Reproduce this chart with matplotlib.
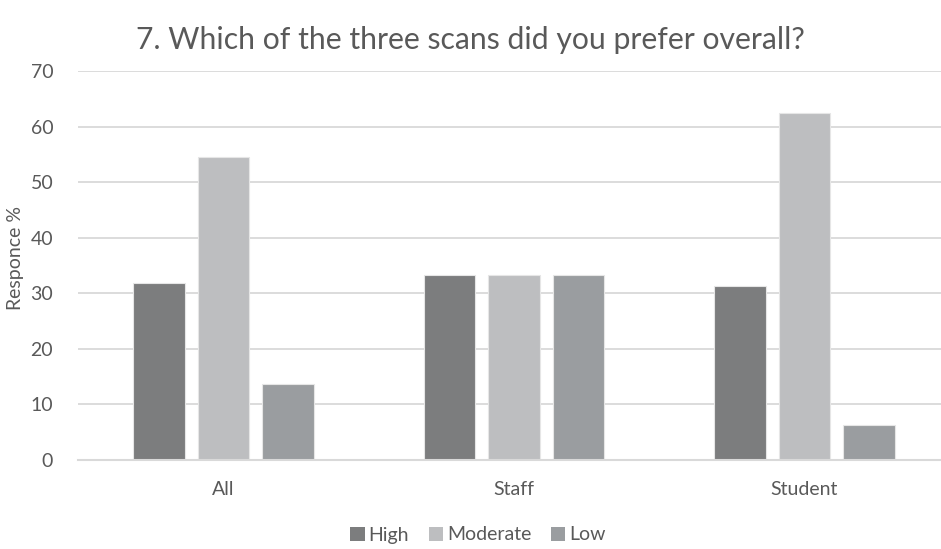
import matplotlib
matplotlib.use("Agg")
import matplotlib.pyplot as plt
import numpy as np

plt.rcParams['font.family'] = ['Lato', 'DejaVu Sans']

categories = ["All", "Staff", "Student"]
series_names = ["High", "Moderate", "Low"]
high = [31.8, 33.3, 31.25]
moderate = [54.5, 33.3, 62.5]
low = [13.6, 33.3, 6.25]
series_values = [high, moderate, low]
colors = ["#7c7d7e", "#bdbec0", "#9a9da0"]
yticks = [0, 10, 20, 30, 40, 50, 60, 70]

text_color = "#595959"
grid_color = "#d9d9d9"

fig = plt.figure(figsize=(9.41, 5.49), dpi=100)
ax = fig.add_axes([78.25 / 941, 89 / 549, 871.5 / 941, 389 / 549])

x = np.arange(len(categories))
step = 0.222
width = 0.176
for k, (name, vals, col) in enumerate(zip(series_names, series_values, colors)):
    ax.bar(x + (k - 1) * step, vals, width, color=col, label=name,
           edgecolor="#e6e6e6", linewidth=0.8, zorder=3)

ax.set_xlim(-0.5, len(categories) - 0.5)
ax.set_ylim(0, 70)
ax.set_yticks(yticks)
ax.set_xticks(x)
ax.set_xticklabels(categories)
ax.yaxis.grid(True, color=grid_color, linewidth=1.3, zorder=0)
for s in ["top", "right", "left"]:
    ax.spines[s].set_visible(False)
ax.spines["bottom"].set_color(grid_color)
ax.spines["bottom"].set_linewidth(1.5)
ax.spines["bottom"].set_zorder(4)
ax.tick_params(axis="both", length=0, colors=text_color, labelsize=14)
ax.tick_params(axis="y", pad=18)
ax.tick_params(axis="x", pad=15)

fig.text(16 / 941, 1 - 258 / 549, "Responce %", rotation=90,
         ha="center", va="center", color=text_color, fontsize=14)

fig.text(470 / 941, 1 - 40 / 549, "7. Which of the three scans did you prefer overall?",
         ha="center", va="center", color=text_color, fontsize=21.7)

leg = fig.legend(loc="center", bbox_to_anchor=(478 / 941, 1 - 535 / 549), ncol=3,
                 frameon=False, fontsize=14, handlelength=0.75, handleheight=0.75,
                 handletextpad=0.2, columnspacing=1.0, labelcolor=text_color)
for h in leg.legend_handles:
    h.set_edgecolor("none")

fig.savefig("out.png", dpi=100, facecolor="white")
